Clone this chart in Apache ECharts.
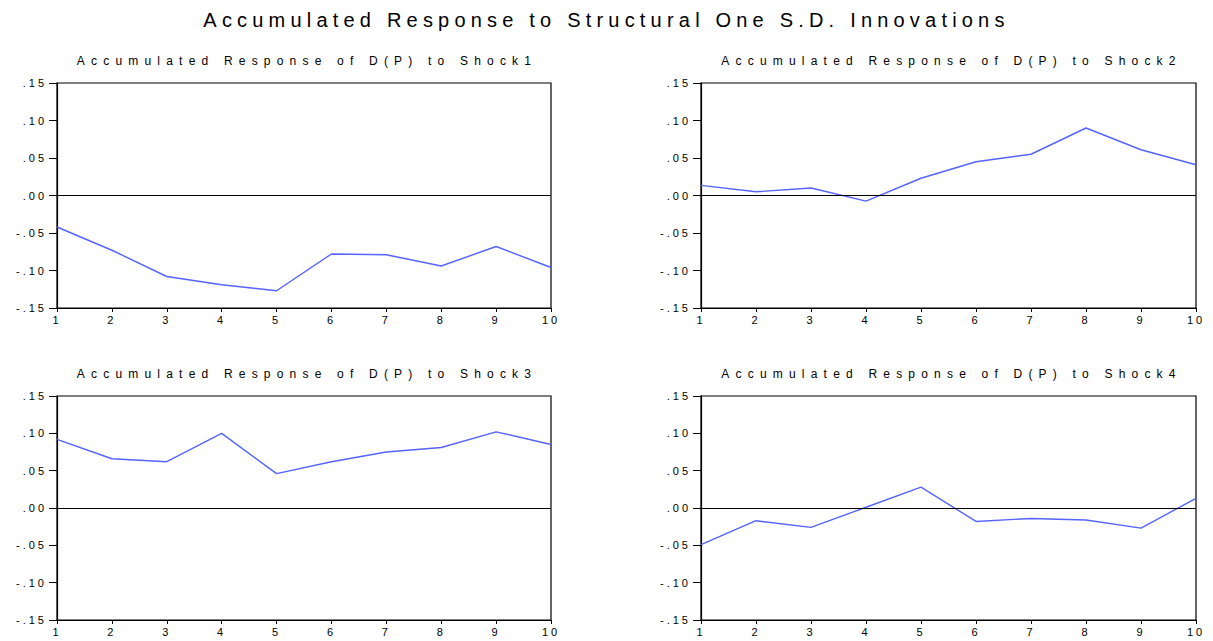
<!DOCTYPE html>
<html>
<head>
<meta charset="utf-8">
<script src="https://cdn.jsdelivr.net/npm/echarts@6.0.0/dist/echarts.min.js"></script>
<style>
  html, body { margin: 0; background: #fff; }
  #main { width: 1213px; height: 641px; }
  /* EViews prints everything with wide letter spacing */
  #main text[style*="11px"] { letter-spacing: 3px; }
  #main text[style*="12px"] { letter-spacing: 6.2px; }
  #main text[style*="20px"] { letter-spacing: 5.2px; }
</style>
</head>
<body>
<div id="main"></div>
<script>
var periods = ['1', '2', '3', '4', '5', '6', '7', '8', '9', '10'];

var shock1 = [-0.042, -0.073, -0.108, -0.119, -0.127, -0.078, -0.079, -0.094, -0.068, -0.096];
var shock2 = [0.0135, 0.005, 0.010, -0.0075, 0.023, 0.045, 0.055, 0.090, 0.061, 0.041];
var shock3 = [0.092, 0.066, 0.062, 0.100, 0.046, 0.062, 0.075, 0.081, 0.102, 0.085];
var shock4 = [-0.049, -0.017, -0.026, 0.001, 0.028, -0.018, -0.014, -0.016, -0.027, 0.013];

var yTickLabels = ['-.15', '-.10', '-.05', '.00', '.05', '.10', '.15'];

var mainTitle = 'Accumulated Response to Structural One S.D. Innovations';
var panelTitles = [
  'Accumulated Response of D(P) to Shock1',
  'Accumulated Response of D(P) to Shock2',
  'Accumulated Response of D(P) to Shock3',
  'Accumulated Response of D(P) to Shock4'
];
var panelData = [shock1, shock2, shock3, shock4];

var chartDom = document.getElementById('main');
var myChart = echarts.init(chartDom, null, { renderer: 'svg' });

var FONT = 'Liberation Sans, Arial, sans-serif';
var LINE_COLOR = '#5563ff';

var grids = [
  { left: 57, top: 83, width: 494, height: 225 },
  { left: 701, top: 83, width: 495, height: 225 },
  { left: 57, top: 396, width: 494, height: 224 },
  { left: 701, top: 396, width: 495, height: 224 }
];

var titles = [{
  text: mainTitle,
  left: 'center',
  top: 10,
  padding: 0,
  textStyle: { fontFamily: FONT, fontSize: 20, fontWeight: 'normal', color: '#000' }
}];
var xAxes = [], yAxes = [], series = [];

grids.forEach(function (g, i) {
  g.show = true;
  g.borderColor = '#000';
  g.borderWidth = 1.2;
  g.containLabel = false;

  titles.push({
    text: panelTitles[i],
    left: g.left + g.width / 2 + 3,
    textAlign: 'center',
    top: g.top - 28,
    padding: 0,
    textStyle: { fontFamily: FONT, fontSize: 12, fontWeight: 'normal', color: '#000' }
  });

  xAxes.push({
    type: 'category',
    gridIndex: i,
    data: periods,
    boundaryGap: false,
    axisLine: { onZero: false, lineStyle: { color: '#000', width: 1.2 } },
    axisTick: { show: true, length: 4, lineStyle: { color: '#000' } },
    axisLabel: { fontFamily: FONT, fontSize: 11, color: '#000', margin: 6 },
    splitLine: { show: false }
  });

  yAxes.push({
    type: 'value',
    gridIndex: i,
    min: -0.15,
    max: 0.15,
    interval: 0.05,
    axisLine: { show: true, lineStyle: { color: '#000', width: 1.2 } },
    axisTick: { show: true, length: 8, lineStyle: { color: '#000' } },
    axisLabel: {
      fontFamily: FONT, fontSize: 11, color: '#000', margin: 10,
      formatter: function (v) {
        return yTickLabels[Math.round((v + 0.15) / 0.05)];
      }
    },
    splitLine: { show: false }
  });

  series.push({
    name: panelTitles[i],
    type: 'line',
    xAxisIndex: i,
    yAxisIndex: i,
    data: panelData[i],
    symbol: 'none',
    lineStyle: { color: LINE_COLOR, width: 1.4 },
    markLine: {
      silent: true,
      symbol: 'none',
      label: { show: false },
      lineStyle: { color: '#000', width: 1, type: 'solid' },
      data: [{ yAxis: 0 }]
    }
  });
});

var option = {
  backgroundColor: '#fff',
  animation: false,
  title: titles,
  grid: grids,
  xAxis: xAxes,
  yAxis: yAxes,
  series: series
};

option && myChart.setOption(option);
</script>
</body>
</html>
